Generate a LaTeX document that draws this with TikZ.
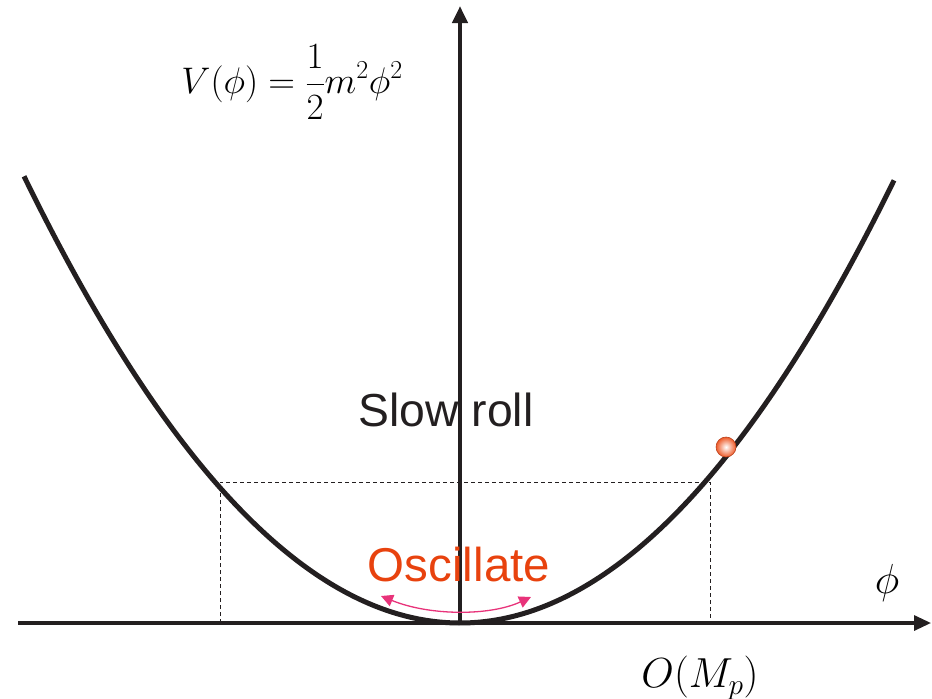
\RequirePackage{fix-cm}
\documentclass[tikz,border=0pt]{standalone}
\usepackage{fontspec}
\setsansfont{Liberation Sans}
\usetikzlibrary{arrows.meta}
\definecolor{ink}{HTML}{231F20}
\definecolor{osc}{HTML}{E8420E}
\definecolor{pinkarr}{HTML}{E8337A}
\definecolor{ballouter}{HTML}{EE5A28}
\definecolor{ballrim}{HTML}{B8401C}
\tikzset{
  axis/.style={draw=ink, -{Triangle[length=17pt,width=15pt]}},
  curve/.style={draw=ink, line width=5pt},
  guide/.style={draw=ink, line width=0.6pt, dash pattern=on 4pt off 3pt},
  swing/.style={draw=pinkarr, line width=1.3pt, {Triangle[length=12pt,width=12pt]}-{Triangle[length=12pt,width=12pt]}},
  sanslabel/.style={inner sep=0pt},
  mathlabel/.style={inner sep=0pt}
}
\begin{document}
\begin{tikzpicture}[x=1pt,y=-1pt]
\useasboundingbox (0,0) rectangle (932,699);
% axes
\coordinate (origin) at (460,623);
\coordinate (xstart) at (18,623);
\coordinate (xend) at (931,623);
\coordinate (ytop) at (460,6);
\draw[axis, line width=3.2pt] (xstart) -- (xend);
\draw[axis, line width=4.2pt] (origin) -- (ytop);
% dashed guides
\coordinate (gl) at (220,482);
\coordinate (gr) at (710,482);
\coordinate (gl0) at (220,623);
\coordinate (gr0) at (710,623);
\draw[guide] (gl0) -- (gl) -- (gr) -- (gr0);
% parabola
\draw[curve] plot[domain=-436:434, samples=120, smooth] ({460+\x},{623-(0.04848*\x)*(0.04848*\x)});
% ball
\node[circle, minimum size=20pt, inner sep=0pt, draw=ballrim, line width=0.6pt, inner color=white, outer color=ballouter] (ball) at (726,447) {};
% labels
\node[mathlabel] (formula) at (292,82) {\fontsize{37}{44}\selectfont $\displaystyle V(\phi)=\frac{1}{2}m^2\phi^2$};
\node[sanslabel, text=ink] (slow) at (446,410) {\sffamily\fontsize{46.3}{52}\selectfont Slow roll};
\node[sanslabel, text=osc] (oscl) at (459,565) {\sffamily\fontsize{47.5}{52}\selectfont Oscillate};
\node[mathlabel] (phi) at (887,583) {\fontsize{42}{48}\selectfont $\phi$};
\node[mathlabel] (omp) at (700,678) {\fontsize{42}{48}\selectfont $O(M_p)$};
% oscillation arrow
\coordinate (sl) at (381,596);
\coordinate (sr) at (531,597);
\draw[swing] (sl) .. controls (430,616) and (490,616) .. (sr);
\end{tikzpicture}
\end{document}
